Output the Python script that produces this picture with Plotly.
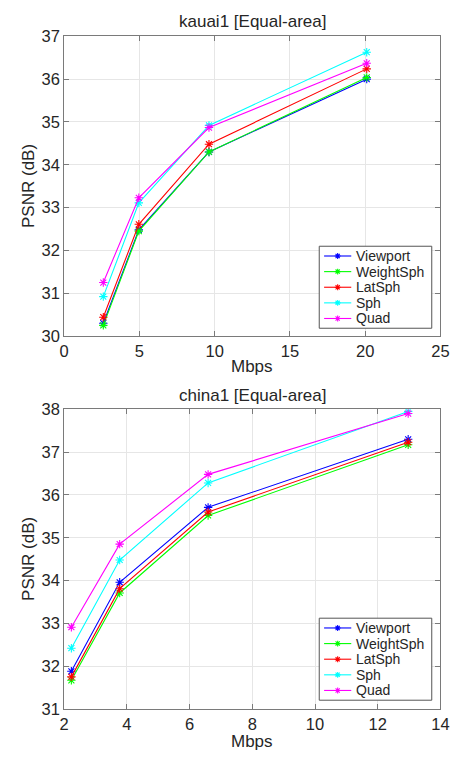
import plotly.graph_objects as go

series_names = ["Viewport", "WeightSph", "LatSph", "Sph", "Quad"]
colors = ["#0000FF", "#00FF00", "#FF0000", "#00FFFF", "#FF00FF"]

# kauai1
kauai_x = [2.6, 4.96, 9.62, 20.1]
kauai_y = {
    "Viewport":  [30.30, 32.48, 34.30, 36.00],
    "WeightSph": [30.25, 32.45, 34.30, 36.04],
    "LatSph":    [30.44, 32.61, 34.48, 36.24],
    "Sph":       [30.92, 33.11, 34.92, 36.63],
    "Quad":      [31.25, 33.23, 34.87, 36.37],
}

# china1
china_x = [2.23, 3.77, 6.59, 12.97]
china_y = {
    "Viewport":  [31.88, 33.96, 35.71, 37.30],
    "WeightSph": [31.67, 33.71, 35.52, 37.17],
    "LatSph":    [31.75, 33.81, 35.60, 37.23],
    "Sph":       [32.42, 34.48, 36.28, 37.95],
    "Quad":      [32.91, 34.85, 36.48, 37.90],
}

W, H = 465, 759
FONT = "Liberation Sans, Arial, Helvetica, sans-serif"
TXT = "#262626"


def X(p):
    return p / W


def Y(p):
    return 1 - p / H


fig = go.Figure()
for name, c in zip(series_names, colors):
    fig.add_trace(go.Scatter(
        x=kauai_x, y=kauai_y[name], name=name, mode="lines+markers",
        line=dict(color=c, width=1.1),
        marker=dict(symbol="asterisk-open", size=7, line=dict(color=c, width=1.1)),
        xaxis="x", yaxis="y", showlegend=False))
for name, c in zip(series_names, colors):
    fig.add_trace(go.Scatter(
        x=china_x, y=china_y[name], name=name, mode="lines+markers",
        line=dict(color=c, width=1.1),
        marker=dict(symbol="asterisk-open", size=7, line=dict(color=c, width=1.1)),
        xaxis="x2", yaxis="y2", showlegend=False))

axis_common = dict(
    showline=True, linecolor="#7a7a7a", linewidth=1, mirror="ticks",
    ticks="inside", ticklen=5, tickcolor="#7a7a7a",
    showgrid=True, gridcolor="#E6E6E6", gridwidth=1,
    zeroline=False, tickfont=dict(family=FONT, size=16.5, color=TXT),
)

xdom = [X(61), X(449)]
fig.update_layout(
    width=W, height=H,
    margin=dict(l=0, r=0, t=0, b=0),
    paper_bgcolor="white", plot_bgcolor="white",
    font=dict(family=FONT, color=TXT),
    showlegend=False,
    xaxis=dict(domain=xdom, range=[0, 25], tickvals=[0, 5, 10, 15, 20, 25],
               anchor="y", **axis_common),
    yaxis=dict(domain=[Y(335), Y(28)], range=[30, 37],
               tickvals=list(range(30, 38)), anchor="x", **axis_common),
    xaxis2=dict(domain=xdom, range=[2, 14], tickvals=[2, 4, 6, 8, 10, 12, 14],
                anchor="y2", **axis_common),
    yaxis2=dict(domain=[Y(717), Y(410)], range=[31, 38],
                tickvals=list(range(31, 39)), anchor="x2", **axis_common),
)

ann_font = dict(family=FONT, size=17, color=TXT)
annotations = [
    dict(text="kauai1 [Equal-area]", x=X(255), y=Y(13), font=ann_font),
    dict(text="china1 [Equal-area]", x=X(255), y=Y(396), font=ann_font),
    dict(text="Mbps", x=X(255), y=Y(366), font=ann_font),
    dict(text="Mbps", x=X(255), y=Y(750), font=ann_font),
    dict(text="PSNR (dB)", x=X(24), y=Y(181), font=ann_font, textangle=-90),
    dict(text="PSNR (dB)", x=X(24), y=Y(563), font=ann_font, textangle=-90),
]
for a in annotations:
    a.update(xref="paper", yref="paper", showarrow=False,
             xanchor="center", yanchor="middle")

# manual legends (compact MATLAB-style)
shapes = []
legend_boxes = [(324, 243), (324, 624)]   # left, top of each legend box
BOX_W, BOX_H, STEP = 116, 84, 16
for (bx, by) in legend_boxes:
    shapes.append(dict(type="rect", xref="paper", yref="paper",
                       x0=X(bx), x1=X(bx + BOX_W), y0=Y(by), y1=Y(by + BOX_H),
                       line=dict(color="#555555", width=1), fillcolor="white",
                       layer="above"))
    for i, (name, c) in enumerate(zip(series_names, colors)):
        cy = by + 10 + i * STEP
        shapes.append(dict(type="line", xref="paper", yref="paper",
                           x0=X(bx + 5), x1=X(bx + 33), y0=Y(cy), y1=Y(cy),
                           line=dict(color=c, width=1.1), layer="above"))
        mx, r = bx + 19, 3
        d = r * 0.72
        path = (f"M {X(mx - r)} {Y(cy)} L {X(mx + r)} {Y(cy)} "
                f"M {X(mx)} {Y(cy - r)} L {X(mx)} {Y(cy + r)} "
                f"M {X(mx - d)} {Y(cy - d)} L {X(mx + d)} {Y(cy + d)} "
                f"M {X(mx - d)} {Y(cy + d)} L {X(mx + d)} {Y(cy - d)}")
        shapes.append(dict(type="path", xref="paper", yref="paper", path=path,
                           line=dict(color=c, width=1.1), layer="above"))
        annotations.append(dict(text=name, x=X(bx + 36), y=Y(cy), xref="paper",
                                yref="paper", showarrow=False, xanchor="left",
                                yanchor="middle",
                                font=dict(family=FONT, size=14, color=TXT)))

fig.update_layout(annotations=annotations, shapes=shapes)

# remove the browser's default 8px body margin so the figure sits at (0, 0)
fig.write_html("out.html", config={"displayModeBar": False},
               post_script="document.body.style.margin='0';")
